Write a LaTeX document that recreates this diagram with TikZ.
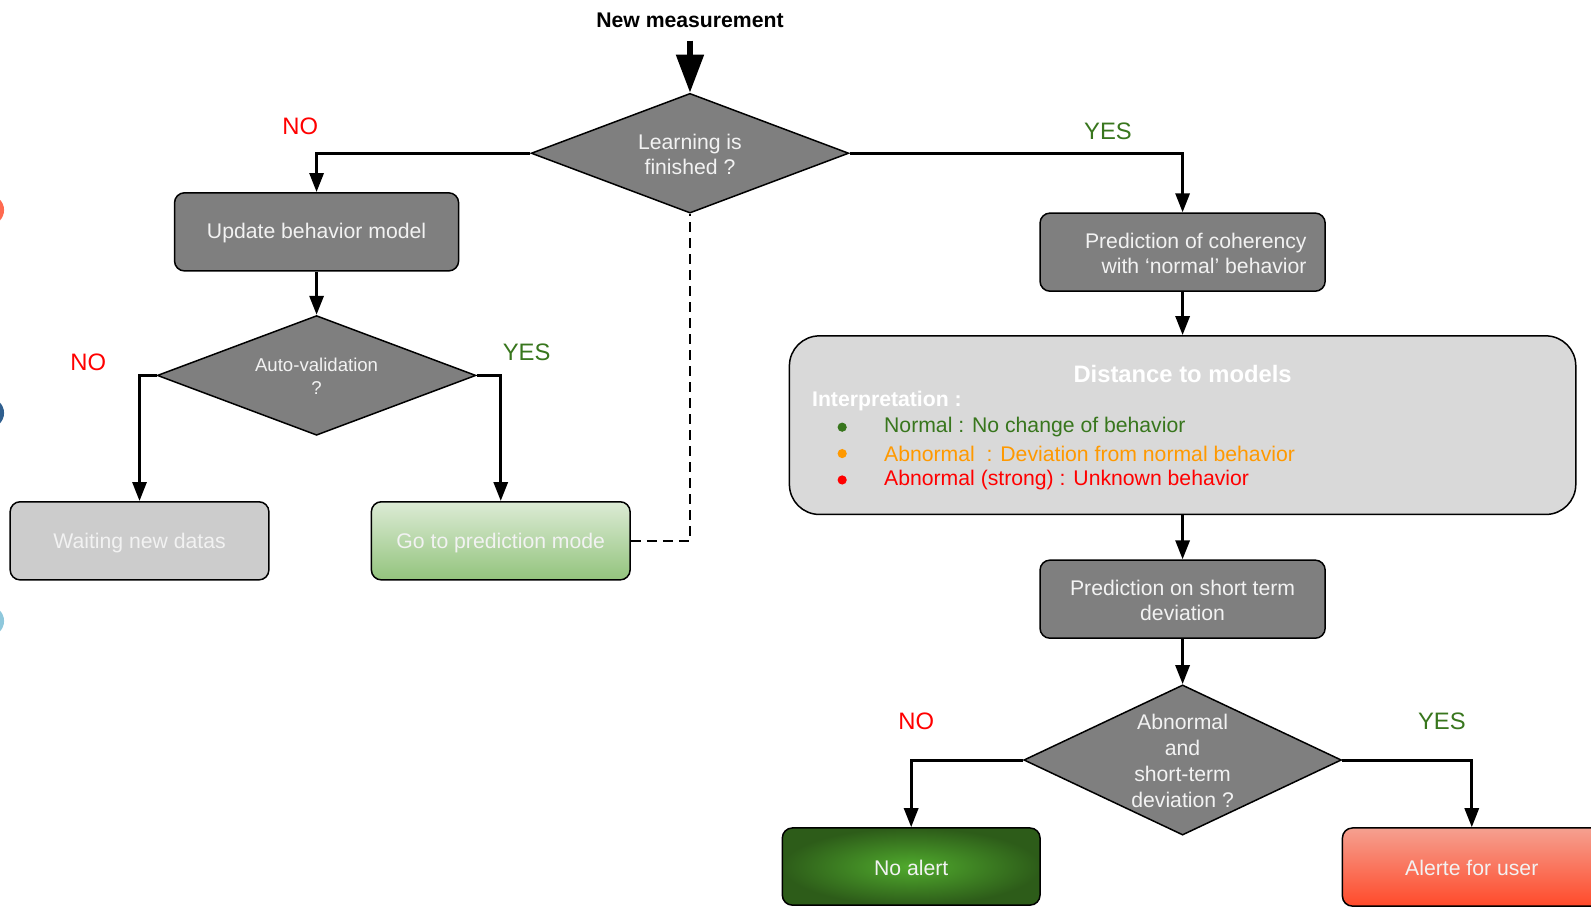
\documentclass[tikz,border=0pt]{standalone}
\usepackage{fontspec}
\setmainfont{Liberation Sans}
\usetikzlibrary{arrows.meta,shapes.geometric}

\definecolor{procgray}{HTML}{7F7F7F}
\definecolor{waitgray}{HTML}{CCCCCC}
\definecolor{distgray}{HTML}{D9D9D9}
\definecolor{paletext}{HTML}{F2F2F2}
\definecolor{yesgreen}{HTML}{38761D}
\definecolor{noreds}{HTML}{FF0000}
\definecolor{warnorange}{HTML}{FF9900}
\definecolor{gotop}{HTML}{DCEBD5}
\definecolor{gobottom}{HTML}{93C47D}
\definecolor{okinner}{HTML}{50AA2D}
\definecolor{okouter}{HTML}{2D5C19}
\definecolor{alerttop}{HTML}{F5A090}
\definecolor{alertbottom}{HTML}{FF4A2A}
\definecolor{dotorange}{HTML}{FF6A50}
\definecolor{dotblue}{HTML}{2F5F8F}
\definecolor{dotsky}{HTML}{8FC8DC}

\def\pxu{0.50735pt}

\begin{document}
\begin{tikzpicture}[x=0.50735pt,y=-0.50735pt,
  basefont/.style={font=\fontsize{10.6}{12.7}\selectfont},
  procbox/.style={rectangle, rounded corners=5pt, draw=black, line width=0.75pt,
    fill=procgray, text=paletext, basefont, align=center,
    minimum width=281*\pxu, minimum height=77*\pxu, inner sep=0pt},
  smallbox/.style={procbox, minimum width=255*\pxu},
  decision/.style={diamond, draw=black, line width=0.75pt, fill=procgray,
    inner sep=0pt},
  dtext/.style={text=paletext, basefont, align=center, inner sep=0pt},
  answer/.style={font=\fontsize{11.9}{14}\selectfont, inner sep=0pt},
  flow/.style={line width=1.5pt, -{Triangle[width=7pt,length=9.5pt]}},
  bigflow/.style={line width=2.6pt, -{Triangle[width=13.5pt,length=19pt]}},
  linkline/.style={line width=0.75pt, dash pattern=on 5pt off 3pt},
  bulletdot/.style={circle, fill, inner sep=0pt, minimum size=4.6pt},
  itemtext/.style={basefont, anchor=west, inner sep=0pt}
]
\useasboundingbox (0,0) rectangle (1568,893);
\clip (0,0) rectangle (1568,893);

% side markers at the left margin
\fill[dotorange] (-11,207) circle (15);
\fill[dotblue] (-11,407) circle (15);
\fill[dotsky] (-11,612) circle (15);

% start
\node[font=\bfseries\fontsize{10.6}{12.7}\selectfont, inner sep=0pt] (start) at (680,20) {New measurement};
\coordinate (startline) at (680,40);

% learning decision
\node[decision, minimum width=313*\pxu, minimum height=118*\pxu] (learn) at (680,151) {};
\node[dtext] (learntext) at (680,152) {Learning is\\finished ?};

% learning branch
\node[procbox, minimum width=280*\pxu] (update) at (312,228.5) {};
\node[dtext] (updatetext) at (312,230) {Update behavior model};
\node[decision, minimum width=314*\pxu, minimum height=118*\pxu] (autoval) at (312,370) {};
\node[dtext, font=\fontsize{9.3}{11.2}\selectfont] (autotext) at (312,371) {Auto-validation\\?};
\node[smallbox, fill=waitgray] (wait) at (137.5,533) {};
\node[dtext] (waittext) at (137.5,535) {Waiting new datas};
\node[smallbox, top color=gotop, bottom color=gobottom] (gopred) at (493.5,533) {};
\node[dtext] (gotext) at (493.5,535) {Go to prediction mode};

% prediction branch
\node[procbox] (coher) at (1165.5,248.5) {};
\node[dtext, align=right] (cohertext) at (1178.5,249.5) {Prediction of coherency\\with ‘normal’ behavior};

\node[procbox, fill=distgray, rounded corners=15pt, minimum width=775*\pxu, minimum height=176*\pxu] (dist) at (1165.5,419) {};
\node[font=\bfseries\fontsize{11.9}{14}\selectfont, text=white, inner sep=0pt] (disttitle) at (1165.5,369) {Distance to models};
\node[font=\bfseries\fontsize{10.6}{12.7}\selectfont, text=white, anchor=west, inner sep=0pt] (interp) at (800,395) {Interpretation :};
\node[bulletdot, yesgreen] (dotnormal) at (830,421) {};
\node[itemtext, text=yesgreen] (itnormal) at (871,421) {Normal : No change of behavior};
\node[bulletdot, warnorange] (dotabn) at (830,447) {};
\node[itemtext, text=warnorange] (itabn) at (871,447) {Abnormal~~: Deviation from normal behavior};
\node[bulletdot, noreds] (dotstrong) at (830,473) {};
\node[itemtext, text=noreds] (itstrong) at (871,473) {Abnormal (strong) : Unknown behavior};

\node[procbox] (shortdev) at (1165.5,590.5) {};
\node[dtext] (shorttext) at (1165.5,591.5) {Prediction on short term\\deviation};
\node[decision, minimum width=313*\pxu, minimum height=148*\pxu] (alertdec) at (1165.5,749) {};
\node[dtext, font=\fontsize{10.6}{12.9}\selectfont] (alerttext) at (1165.5,750) {Abnormal\\and\\short-term\\deviation ?};

\node[smallbox, minimum width=254*\pxu, minimum height=76*\pxu, shading=radial, inner color=okinner, outer color=okouter] (noalert) at (898,854) {};
\node[dtext] (noalerttext) at (898,855.5) {No alert};
\node[smallbox, top color=alerttop, bottom color=alertbottom] (alert) at (1450.5,854.5) {};
\node[dtext] (alerttextb) at (1450.5,855.5) {Alerte for user};

% branch answers
\node[answer, text=noreds] (no1) at (296,124) {NO};
\node[answer, text=yesgreen] (yes1) at (1092,129) {YES};
\node[answer, text=noreds] (no2) at (87,357) {NO};
\node[answer, text=yesgreen] (yes2) at (519,347) {YES};
\node[answer, text=noreds] (no3) at (903,711) {NO};
\node[answer, text=yesgreen] (yes3) at (1421,711) {YES};

% connectors
\draw[bigflow] (startline) -- (learn.north);
\draw[flow] (learn.west) -| (update.north);
\draw[flow] (update.south) -- (autoval.north);
\draw[flow] (autoval.west) -| (wait.north);
\draw[flow] (autoval.east) -| (gopred.north);
\draw[linkline] (gopred.east) -| (learn.south);
\draw[flow] (learn.east) -| (coher.north);
\draw[flow] (coher.south) -- (dist.north);
\draw[flow] (dist.south) -- (shortdev.north);
\draw[flow] (shortdev.south) -- (alertdec.north);
\draw[flow] (alertdec.west) -| (noalert.north);
\draw[flow] (alertdec.east) -| (alert.north);
\end{tikzpicture}
\end{document}
